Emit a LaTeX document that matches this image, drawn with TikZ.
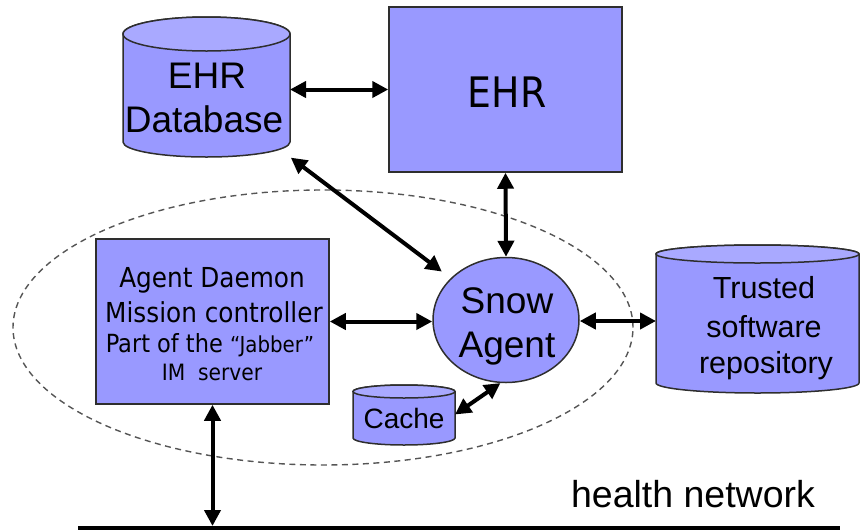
\documentclass[tikz,border=0pt]{standalone}
\usepackage{fontspec}
\setmainfont{Liberation Sans}
\newfontfamily\tah{DejaVu Sans Condensed}
\usetikzlibrary{arrows.meta,shapes.geometric}

\definecolor{boxfill}{HTML}{9999FF}
\definecolor{capfill}{HTML}{A9A9FF}
\definecolor{edge}{HTML}{2E2E2E}
\definecolor{ring}{HTML}{555555}

\tikzset{
  box/.style={draw=edge, line width=1.5pt, fill=boxfill, inner sep=0, rectangle},
  drumbody/.style={fill=boxfill, draw=edge, line width=1.5pt},
  drumcap/.style={fill=capfill, draw=edge, line width=1.5pt},
  area/.style={inner sep=0, outer sep=0, rectangle},
  lbl/.style={inner sep=0, anchor=base},
  link/.style={line width=4pt, black,
    {Triangle[length=16pt,width=16pt]}-{Triangle[length=16pt,width=16pt]}},
  zone/.style={draw=ring, line width=1.4pt, dash pattern=on 6pt off 4.5pt},
}

\begin{document}
\begin{tikzpicture}[x=1pt,y=1pt]
\useasboundingbox (0,0) rectangle (860,-531);

% dashed boundary of the agent platform
\draw[zone] (323,-327.5) ellipse[x radius=310, y radius=137.5];

% EHR database cylinder
\path[drumbody] (123,-34) -- (123,-142)
  arc[start angle=180,end angle=360,x radius=83.5,y radius=15] -- (290,-34)
  arc[start angle=0,end angle=180,x radius=83.5,y radius=17] -- cycle;
\path[drumcap] (206.5,-34) ellipse[x radius=83.5, y radius=17];
\node[area, minimum width=167pt, minimum height=141pt] (ehrdb) at (206.5,-86.5) {};
\node[lbl, font=\fontsize{37}{40}\selectfont] (ehrdbA) at (207,-88) {EHR};
\node[lbl, font=\fontsize{37}{40}\selectfont] (ehrdbB) at (204,-132) {Database};

% EHR application
\node[box, minimum width=233pt, minimum height=165pt] (ehr) at (505.5,-89.5) {};
\node[lbl, font=\tah\fontsize{42}{46}\selectfont] (ehrT) at (507,-107) {EHR};

% agent daemon
\node[box, minimum width=233pt, minimum height=165pt] (daemon) at (212.5,-321.5) {};
\node[lbl, font=\tah\fontsize{27.5}{30}\selectfont] (dA) at (212,-287) {Agent Daemon};
\node[lbl, font=\tah\fontsize{27.5}{30}\selectfont] (dB) at (214,-322) {Mission controller};
\node[lbl, font=\tah\fontsize{25}{28}\selectfont] (dC) at (210,-352.5)
  {Part of the {\fontsize{22}{24}\selectfont “Jabber”}};
\node[lbl, font=\tah\fontsize{22.5}{25}\selectfont] (dD) at (212,-380.5) {IM\ \ server};

% snow agent
\node[ellipse, draw=edge, line width=1.5pt, fill=boxfill, inner sep=0,
  minimum width=146pt, minimum height=125pt] (snow) at (506,-320) {};
\node[lbl, font=\fontsize{37}{40}\selectfont] (snowA) at (507,-313) {Snow};
\node[lbl, font=\fontsize{37}{40}\selectfont] (snowB) at (507,-357) {Agent};

% trusted software repository cylinder
\path[drumbody] (656,-254) -- (656,-383)
  arc[start angle=180,end angle=360,x radius=101.5,y radius=10] -- (859,-254)
  arc[start angle=0,end angle=180,x radius=101.5,y radius=9] -- cycle;
\path[drumcap] (757.5,-254) ellipse[x radius=101.5, y radius=9];
\node[area, minimum width=203pt, minimum height=148pt] (trusted) at (757.5,-319) {};
\node[lbl, font=\fontsize{30.5}{34}\selectfont] (trA) at (764,-298) {Trusted};
\node[lbl, font=\fontsize{30.5}{34}\selectfont] (trB) at (764,-337.5) {software};
\node[lbl, font=\fontsize{30.5}{34}\selectfont] (trC) at (766,-373) {repository};

% cache cylinder
\path[drumbody] (353,-391.5) -- (353,-438)
  arc[start angle=180,end angle=360,x radius=51,y radius=7] -- (455,-391.5)
  arc[start angle=0,end angle=180,x radius=51,y radius=6.5] -- cycle;
\path[drumcap] (404,-391.5) ellipse[x radius=51, y radius=6.5];
\node[area, minimum width=102pt, minimum height=61pt] (cache) at (404,-414.5) {};
\node[lbl, font=\fontsize{28}{30}\selectfont] (cacheT) at (404,-428) {Cache};

% health network bus
\coordinate (netL) at (78,-528);
\coordinate (netR) at (840,-528);
\draw[line width=4.5pt] (netL) -- (netR);
\node[lbl, font=\fontsize{37.5}{40}\selectfont] (net) at (693,-507) {health network};

% connections
\draw[link] (ehrdb.east |- ehr.west) -- (ehr.west);
\draw[link, shorten >=11pt, shorten <=1pt] (ehrdb.south east) -- (snow);
\draw[link] (ehr.south) -- (snow.north);
\draw[link] (daemon.east) -- (snow.west |- daemon.east);
\draw[link] (snow.east |- 0,-321) -- (trusted.west |- 0,-321);
\draw[link] (cache.east) -- (snow.265);
\draw[link] (daemon.south) -- ([yshift=2pt]daemon.south |- netL);
\end{tikzpicture}
\end{document}
